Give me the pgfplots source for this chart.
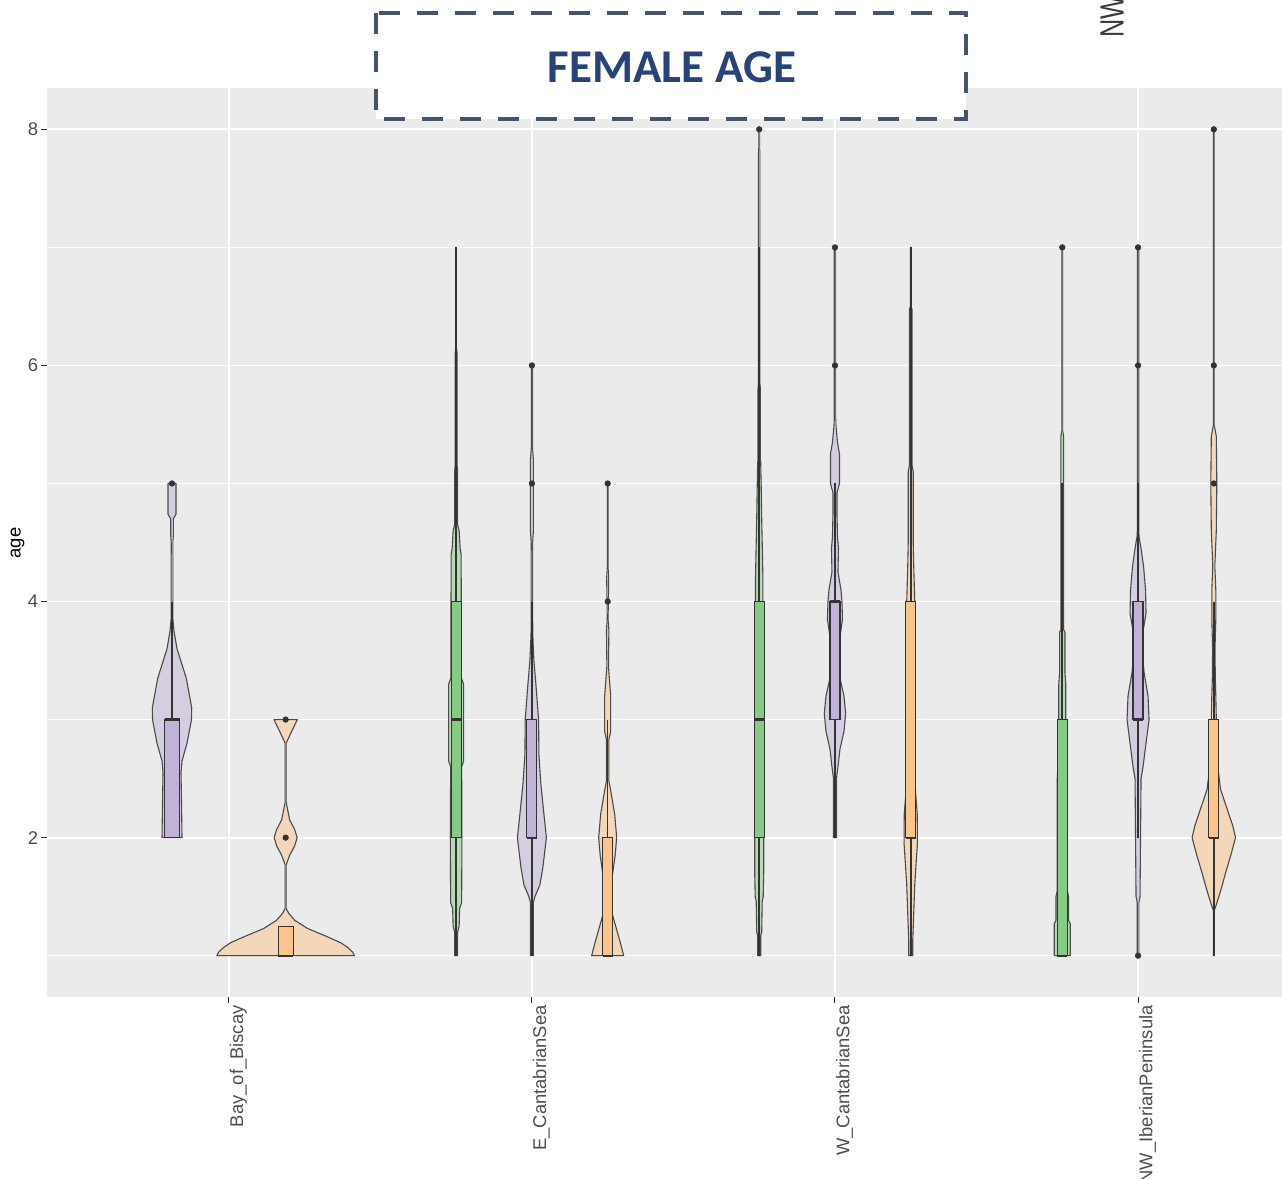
\documentclass[border=0pt]{standalone}
\usepackage{pgfplots}
\pgfplotsset{compat=1.18}
\usepackage{pgfplotstable}
\usepackage{fontspec}
\setmainfont{Liberation Sans}
\newfontfamily\titlefont{Carlito}
\definecolor{panel}{HTML}{EBEBEB}
\definecolor{labelgray}{HTML}{4D4D4D}
\definecolor{tickgray}{HTML}{333333}
\definecolor{vgreen}{HTML}{B5DAB5}
\definecolor{vpurple}{HTML}{D5CDE0}
\definecolor{vorange}{HTML}{F4D6B8}
\definecolor{bgreen}{HTML}{85CA85}
\definecolor{bpurple}{HTML}{C1B3D8}
\definecolor{borange}{HTML}{FCC38B}
\definecolor{vline}{HTML}{4A4A4A}
\definecolor{dark}{HTML}{333333}
\definecolor{boxline}{HTML}{44546A}
\definecolor{titleblue}{HTML}{264478}
\definecolor{nwgray}{HTML}{3A3A3A}

% violin outlines: y = age, w = half width in pixels (303 px per category)
\pgfplotstableread{
y w
2.0 -0.3
2.0 10
2.3 9.5
2.55 9
2.65 10
2.8 15
3.0 19.5
3.1 19.7
3.35 14.3
3.6 5
3.75 2
3.85 0.9
4.5 0.8
4.56 1.3
4.7 1.3
4.74 4
5.0 4
5.0 -0.3
}\vPB
\pgfplotstableread{
y w
1.0 -0.3
1.0 68.8
1.03 67
1.07 62
1.11 55
1.17 39
1.23 22
1.3 9
1.36 3
1.40 0.5
1.77 0.5
1.85 4
1.93 9
2.0 11.5
2.07 9
2.15 4
2.3 0.5
2.80 0.5
2.9 6
3.0 11.7
3.0 -0.3
}\vBO
\pgfplotstableread{
y w
1.0 -0.3
1.0 1.5
1.2 1.5
1.25 3
1.4 3.5
1.45 5.5
2.0 5.8
2.6 5.5
2.65 7.5
3.3 7.5
3.35 5.3
4.4 5
4.45 4
4.6 3
4.65 1.5
5.1 1.5
5.15 1.0
6.1 1.0
6.15 0.3
7.0 0.3
7.0 -0.3
}\vEG
\pgfplotstableread{
y w
1.0 -0.3
1.0 1.5
1.45 1.5
1.5 3
1.6 8
1.75 11
2.0 14.5
2.2 12
2.45 9
2.7 7
3.0 6.7
3.3 4
3.5 2
3.65 1.2
3.75 0.8
4.5 0.7
4.6 1.5
5.2 1.5
5.3 0.6
6.0 0.6
6.0 -0.3
}\vEP
\pgfplotstableread{
y w
1.0 -0.3
1.0 16
1.1 13
1.25 8
1.34 5
1.45 2.5
1.55 2.5
1.7 5
1.85 7.5
2.0 9
2.2 7
2.4 3
2.48 1.2
2.83 1.2
2.9 3
3.2 3
3.37 1.5
3.45 0.8
3.76 1.2
3.85 0.4
4.2 1.0
4.3 0.3
5.0 0.3
5.0 -0.3
}\vEO
\pgfplotstableread{
y w
1.0 -0.3
1.0 1.5
1.17 1.5
1.2 2.5
1.46 3
1.5 4
1.7 4.5
2.0 4.5
2.3 4
2.7 3.7
3.3 3.5
3.8 3.7
4.2 3.7
4.5 3
4.7 2.5
4.97 2
5.18 1.5
5.2 1.2
5.8 1.2
5.85 0.7
7.8 0.7
7.85 0.3
8.0 0.3
8.0 -0.3
}\vWG
\pgfplotstableread{
y w
2.0 -0.3
2.0 1.5
2.5 1.5
2.6 3
2.75 5
2.9 9
3.05 10.7
3.2 9
3.35 5
3.5 3
3.7 5
3.85 7.5
4.0 7
4.1 6
4.25 3
4.45 3.5
4.55 2.5
4.75 2
4.92 2
5.0 4.5
5.25 4.5
5.35 2.5
5.49 1
5.55 0.7
7.0 0.7
7.0 -0.3
}\vWP
\pgfplotstableread{
y w
1.0 -0.3
1.0 2
1.13 2
1.36 3
1.6 4
1.8 5.5
1.95 6.7
2.2 6.5
2.36 5
2.6 3.5
3.0 3
3.6 3
4.0 4
4.3 3
4.5 2.5
5.1 2.5
5.15 1.4
6.47 1.4
6.5 0.4
7.0 0.4
7.0 -0.3
}\vWO
\pgfplotstableread{
y w
1.0 -0.3
1.0 8
1.27 8
1.3 6.3
1.5 6.3
1.55 5
2.5 5
2.8 3.5
3.3 3.5
3.4 2.7
3.74 2.7
3.76 1.4
5.4 1.4
5.45 0.3
7.0 0.3
7.0 -0.3
}\vNG
\pgfplotstableread{
y w
1.0 -0.3
1.0 0.8
1.45 0.8
1.5 2
2.0 2.5
2.5 3
2.6 5
2.8 8
3.0 11
3.2 10
3.4 6
3.6 4
3.75 5
3.9 8
4.1 7.5
4.3 5.5
4.45 3
4.55 1
4.6 0.7
7.0 0.7
7.0 -0.3
}\vNP
\pgfplotstableread{
y w
1.0 -0.3
1.0 0.3
1.38 0.3
1.42 2
1.5 5
1.6 8.5
1.7 11.7
1.85 17
2.0 21.7
2.1 19
2.2 15
2.41 6.7
2.6 4
2.8 3
3.2 2
3.35 1.5
3.6 1.2
3.85 2
4.1 2
4.3 1
4.6 2.5
5.0 3
5.4 2.5
5.5 0.3
8.0 0.3
8.0 -0.3
}\vNO

\newcommand\violin[3]{%
  \addplot[fill=#2, draw=vline, line width=0.55pt, line join=round]
    table[x expr=#1+\thisrow{w}/303, y=y]{#3};
  \addplot[fill=#2, draw=vline, line width=0.55pt, line join=round]
    table[x expr=#1-\thisrow{w}/303, y=y]{#3};
}

\begin{document}
\begin{tikzpicture}
\begin{axis}[
  at={(23.5pt,-44pt)}, anchor=north west,
  scale only axis, width=617.5pt, height=454.5pt,
  xmin=0.4, xmax=4.475, ymin=0.65, ymax=8.35,
  axis background/.style={fill=panel},
  axis line style={draw=none},
  xtick={1,2,3,4},
  xticklabels={Bay\_of\_Biscay, E\_CantabrianSea, W\_CantabrianSea, NW\_IberianPeninsula},
  ytick={2,4,6,8}, minor ytick={1,3,5,7},
  xmajorgrids, ymajorgrids, yminorgrids,
  major grid style={white, line width=0.9pt},
  minor grid style={white, line width=0.6pt},
  xtick pos=bottom, ytick pos=left,
  tick align=outside, major tick length=3pt, minor tick length=0pt,
  tick style={color=tickgray, line width=0.5pt},
  ticklabel style={font=\fontsize{9.2}{11}\selectfont, text=labelgray},
  x tick label style={rotate=90, anchor=north east, inner xsep=1pt, inner ysep=0.3pt},
  y tick label style={inner sep=1.2pt},
  /pgf/number format/assume math mode=true,
]
% violins
\violin{0.8125}{vpurple}{\vPB}
\violin{1.1875}{vorange}{\vBO}
\violin{1.75}{vgreen}{\vEG}
\violin{2.0}{vpurple}{\vEP}
\violin{2.25}{vorange}{\vEO}
\violin{2.75}{vgreen}{\vWG}
\violin{3.0}{vpurple}{\vWP}
\violin{3.25}{vorange}{\vWO}
\violin{3.75}{vgreen}{\vNG}
\violin{4.0}{vpurple}{\vNP}
\violin{4.25}{vorange}{\vNO}

% whiskers
\addplot[draw=dark, line width=0.8pt] coordinates {(0.8125,3) (0.8125,4)};
\addplot[draw=dark, line width=0.8pt] coordinates {(1.75,4) (1.75,7)};
\addplot[draw=dark, line width=0.8pt] coordinates {(1.75,2) (1.75,1)};
\addplot[draw=dark, line width=0.8pt] coordinates {(2.0,3) (2.0,4)};
\addplot[draw=dark, line width=0.8pt] coordinates {(2.0,2) (2.0,1)};
\addplot[draw=dark, line width=0.8pt] coordinates {(2.25,2) (2.25,3)};
\addplot[draw=dark, line width=0.8pt] coordinates {(2.75,4) (2.75,7)};
\addplot[draw=dark, line width=0.8pt] coordinates {(2.75,2) (2.75,1)};
\addplot[draw=dark, line width=0.8pt] coordinates {(3.0,4) (3.0,5)};
\addplot[draw=dark, line width=0.8pt] coordinates {(3.0,3) (3.0,2)};
\addplot[draw=dark, line width=0.8pt] coordinates {(3.25,4) (3.25,7)};
\addplot[draw=dark, line width=0.8pt] coordinates {(3.25,2) (3.25,1)};
\addplot[draw=dark, line width=0.8pt] coordinates {(3.75,3) (3.75,5)};
\addplot[draw=dark, line width=0.8pt] coordinates {(4.0,4) (4.0,5)};
\addplot[draw=dark, line width=0.8pt] coordinates {(4.0,3) (4.0,2)};
\addplot[draw=dark, line width=0.8pt] coordinates {(4.25,3) (4.25,4)};
\addplot[draw=dark, line width=0.8pt] coordinates {(4.25,2) (4.25,1)};

% boxes
\addplot[fill=bpurple, draw=dark, line width=0.55pt] coordinates {(0.78775,2) (0.83725,2) (0.83725,3) (0.78775,3) (0.78775,2)};
\addplot[fill=borange, draw=dark, line width=0.55pt] coordinates {(1.16275,1) (1.21225,1) (1.21225,1.25) (1.16275,1.25) (1.16275,1)};
\addplot[fill=bgreen, draw=dark, line width=0.55pt] coordinates {(1.7335,2) (1.7665,2) (1.7665,4) (1.7335,4) (1.7335,2)};
\addplot[fill=bpurple, draw=dark, line width=0.55pt] coordinates {(1.9835,2) (2.0165,2) (2.0165,3) (1.9835,3) (1.9835,2)};
\addplot[fill=borange, draw=dark, line width=0.55pt] coordinates {(2.2335,1) (2.2665,1) (2.2665,2) (2.2335,2) (2.2335,1)};
\addplot[fill=bgreen, draw=dark, line width=0.55pt] coordinates {(2.7335,2) (2.7665,2) (2.7665,4) (2.7335,4) (2.7335,2)};
\addplot[fill=bpurple, draw=dark, line width=0.55pt] coordinates {(2.9835,3) (3.0165,3) (3.0165,4) (2.9835,4) (2.9835,3)};
\addplot[fill=borange, draw=dark, line width=0.55pt] coordinates {(3.2335,2) (3.2665,2) (3.2665,4) (3.2335,4) (3.2335,2)};
\addplot[fill=bgreen, draw=dark, line width=0.55pt] coordinates {(3.7335,1) (3.7665,1) (3.7665,3) (3.7335,3) (3.7335,1)};
\addplot[fill=bpurple, draw=dark, line width=0.55pt] coordinates {(3.9835,3) (4.0165,3) (4.0165,4) (3.9835,4) (3.9835,3)};
\addplot[fill=borange, draw=dark, line width=0.55pt] coordinates {(4.2335,2) (4.2665,2) (4.2665,3) (4.2335,3) (4.2335,2)};

% medians
\addplot[draw=dark, line width=1.1pt] coordinates {(0.78775,3) (0.83725,3)};
\addplot[draw=dark, line width=1.1pt] coordinates {(1.16275,1) (1.21225,1)};
\addplot[draw=dark, line width=1.1pt] coordinates {(1.7335,3) (1.7665,3)};
\addplot[draw=dark, line width=1.1pt] coordinates {(1.9835,2) (2.0165,2)};
\addplot[draw=dark, line width=1.1pt] coordinates {(2.2335,1) (2.2665,1)};
\addplot[draw=dark, line width=1.1pt] coordinates {(2.7335,3) (2.7665,3)};
\addplot[draw=dark, line width=1.1pt] coordinates {(2.9835,4) (3.0165,4)};
\addplot[draw=dark, line width=1.1pt] coordinates {(3.2335,2) (3.2665,2)};
\addplot[draw=dark, line width=1.1pt] coordinates {(3.7335,1) (3.7665,1)};
\addplot[draw=dark, line width=1.1pt] coordinates {(3.9835,3) (4.0165,3)};
\addplot[draw=dark, line width=1.1pt] coordinates {(4.2335,2) (4.2665,2)};

% outliers
\addplot[only marks, mark=*, mark size=1.35pt, color=dark] coordinates {
(0.8125,5) (1.1875,2) (1.1875,3)
(2.0,5) (2.0,6) (2.25,4) (2.25,5)
(2.75,8) (3.0,6) (3.0,7)
(3.75,7) (4.0,1) (4.0,6) (4.0,7) (4.25,5) (4.25,6) (4.25,8)};
\end{axis}

\node[rotate=90, font=\fontsize{9.2}{11}\selectfont] at (8.75pt,-271.5pt) {age};
\draw[draw=boxline, line width=2.2pt, dash pattern=on 10.5pt off 8.5pt, fill=white]
  (188pt,-6.5pt) rectangle (483pt,-59.5pt);
\node[font=\titlefont\bfseries\fontsize{23.5}{28}\selectfont, text=titleblue] at (336pt,-33.4pt) {FEMALE AGE};
\node[rotate=90, xscale=0.75, anchor=west, inner sep=0pt, font=\fontsize{16.8}{20}\selectfont, text=nwgray] at (556pt,-19pt) {NW};

\pgfresetboundingbox
\useasboundingbox (0pt,0pt) rectangle (641pt,-589.5pt);
\end{tikzpicture}
\end{document}
